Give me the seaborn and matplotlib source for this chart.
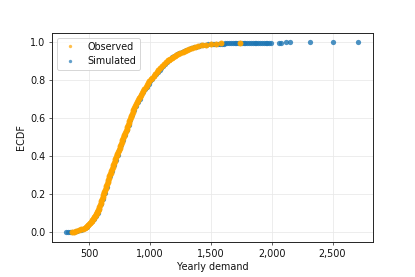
import matplotlib
matplotlib.use("Agg")
import matplotlib.pyplot as plt
import matplotlib.ticker as mticker
from matplotlib.lines import Line2D
import pandas as pd
import seaborn as sns

# Observed demand and its ECDF (pairs)
observed_demand = [
    358, 375, 390, 415, 438, 452, 465, 476, 485, 494, 501, 508, 515, 521, 527,
    533, 539, 545, 550, 555, 559, 563, 566, 570, 574, 580, 586, 591, 597, 602,
    607, 612, 617, 622, 627, 632, 637, 642, 647, 652, 657, 663, 668, 673, 678,
    683, 688, 694, 699, 705, 710, 716, 722, 728, 734, 740, 746, 751, 757, 763,
    768, 774, 780, 785, 791, 797, 802, 808, 814, 819, 825, 830, 836, 841, 847,
    852, 858, 863, 871, 878, 886, 894, 901, 909, 918, 927, 936, 945, 955, 964,
    974, 984, 995, 1006, 1018, 1030, 1043, 1056, 1070, 1085, 1100, 1115, 1130,
    1147, 1158, 1168, 1180, 1190, 1203, 1215, 1232, 1250, 1268, 1285, 1302,
    1320, 1345, 1370, 1398, 1425, 1462, 1500, 1540, 1580, 1738,
]
observed_ecdf = [
    0.002, 0.004, 0.006, 0.010, 0.015, 0.020, 0.025, 0.030, 0.035, 0.040,
    0.045, 0.050, 0.055, 0.060, 0.065, 0.070, 0.075, 0.080, 0.085, 0.090,
    0.095, 0.100, 0.105, 0.110, 0.115, 0.125, 0.135, 0.145, 0.155, 0.165,
    0.175, 0.185, 0.195, 0.205, 0.215, 0.225, 0.235, 0.245, 0.255, 0.265,
    0.275, 0.285, 0.295, 0.305, 0.315, 0.325, 0.335, 0.345, 0.355, 0.365,
    0.375, 0.385, 0.395, 0.405, 0.415, 0.425, 0.435, 0.445, 0.455, 0.465,
    0.475, 0.485, 0.495, 0.505, 0.515, 0.525, 0.535, 0.545, 0.555, 0.565,
    0.575, 0.585, 0.595, 0.605, 0.615, 0.625, 0.635, 0.645, 0.655, 0.665,
    0.675, 0.685, 0.695, 0.705, 0.715, 0.725, 0.735, 0.745, 0.755, 0.765,
    0.775, 0.785, 0.795, 0.805, 0.815, 0.825, 0.835, 0.845, 0.855, 0.865,
    0.875, 0.885, 0.895, 0.905, 0.910, 0.915, 0.920, 0.925, 0.930, 0.935,
    0.940, 0.945, 0.950, 0.955, 0.960, 0.965, 0.970, 0.975, 0.980, 0.985,
    0.988, 0.991, 0.993, 0.995, 0.999,
]

# Simulated demand and its ECDF (pairs)
simulated_demand = [
    315, 330, 345, 360, 375, 390, 405, 420, 435, 450, 465, 480, 495, 510, 525,
    540, 555, 570, 585, 600, 615, 630, 645, 660, 675, 690, 705, 720, 735, 750,
    765, 780, 795, 810, 825, 840, 855, 870, 885, 900, 915, 930, 945, 960, 975,
    990, 1005, 1020, 1035, 1050, 1065, 1080, 1095, 1110, 1125, 1140, 1160, 1180,
    1200, 1220, 1240, 1260, 1280, 1300, 1320, 1340, 1360, 1380, 1400, 1420,
    1440, 1460, 1480, 1500, 1515, 1530, 1545, 1560, 1575, 1590, 1605, 1620,
    1635, 1650, 1665, 1680, 1695, 1710, 1725, 1740, 1755, 1770, 1785, 1800,
    1815, 1830, 1845, 1860, 1875, 1890, 1905, 1920, 1935, 1950, 1965, 1980,
    1995, 2060, 2080, 2115, 2148, 2311, 2500, 2713,
]
simulated_ecdf = [
    0.000, 0.001, 0.002, 0.003, 0.004, 0.006, 0.008, 0.010, 0.013, 0.017,
    0.021, 0.028, 0.037, 0.047, 0.059, 0.071, 0.085, 0.101, 0.123, 0.150,
    0.178, 0.208, 0.238, 0.268, 0.297, 0.325, 0.353, 0.381, 0.408, 0.434,
    0.459, 0.484, 0.510, 0.537, 0.563, 0.590, 0.617, 0.643, 0.665, 0.685,
    0.704, 0.721, 0.737, 0.753, 0.768, 0.783, 0.797, 0.810, 0.822, 0.834,
    0.845, 0.855, 0.865, 0.875, 0.884, 0.898, 0.910, 0.921, 0.930, 0.938,
    0.945, 0.951, 0.957, 0.962, 0.967, 0.971, 0.975, 0.978, 0.981, 0.984,
    0.986, 0.988, 0.990, 0.991, 0.9915, 0.992, 0.9925, 0.993, 0.9935, 0.994,
    0.9945, 0.995, 0.9955, 0.996, 0.9963, 0.9966, 0.9969, 0.9972, 0.9975,
    0.9977, 0.9979, 0.9981, 0.9983, 0.9985, 0.9987, 0.9988, 0.9989, 0.999,
    0.9991, 0.9992, 0.9993, 0.9994, 0.9995, 0.9995, 0.9996, 0.9996, 0.9997,
    0.9997, 0.9997, 0.9998, 0.9998, 0.9999, 0.9999, 1.0,
]

series_labels = ["Observed", "Simulated"]
x_label = "Yearly demand"
y_label = "ECDF"

obs_df = pd.DataFrame({"demand": observed_demand, "ecdf": observed_ecdf})
sim_df = pd.DataFrame({"demand": simulated_demand, "ecdf": simulated_ecdf})

sns.set_style("ticks")
plt.rcParams["font.family"] = ["DejaVu Sans"]
plt.rcParams["text.color"] = "#111111"
plt.rcParams["axes.labelcolor"] = "#111111"
plt.rcParams["xtick.color"] = "#111111"
plt.rcParams["ytick.color"] = "#111111"

dpi = 69.2
fig = plt.figure(figsize=(415 / dpi, 277 / dpi), dpi=dpi)
ax = fig.add_axes([0.125, 0.127, 0.774, 0.754])

c_obs = "#ffa500"
c_sim = "#1f77b4"
sns.scatterplot(data=sim_df, x="demand", y="ecdf", ax=ax, color=c_sim,
                s=30, linewidth=0, alpha=0.8, zorder=2)
sns.scatterplot(data=obs_df, x="demand", y="ecdf", ax=ax, color=c_obs,
                s=38, linewidth=0, alpha=0.95, zorder=3)

ax.grid(True, color="#e8e8e8", linewidth=0.8, zorder=0)
ax.set_axisbelow(True)
ax.xaxis.set_major_formatter(mticker.StrMethodFormatter("{x:,.0f}"))
ax.set_xticks([500, 1000, 1500, 2000, 2500])
ax.set_yticks([0.0, 0.2, 0.4, 0.6, 0.8, 1.0])
ax.set_ylim(-0.05, 1.05)
ax.set_xlabel(x_label, fontsize=10)
ax.set_ylabel(y_label, fontsize=10)
ax.tick_params(labelsize=10, length=3.5, width=0.8, color="#333333")
for sp in ax.spines.values():
    sp.set_color("#222222")
    sp.set_linewidth(1.0)

handles = [
    Line2D([], [], marker="o", linestyle="none", color=c_obs, alpha=0.7,
           markersize=3.5, markeredgewidth=0),
    Line2D([], [], marker="o", linestyle="none", color=c_sim, alpha=0.7,
           markersize=3.5, markeredgewidth=0),
]
ax.legend(handles, series_labels, loc="upper left", fontsize=10,
          frameon=True, framealpha=0.8, edgecolor="#cccccc")

fig.savefig("out.png", dpi=dpi)
